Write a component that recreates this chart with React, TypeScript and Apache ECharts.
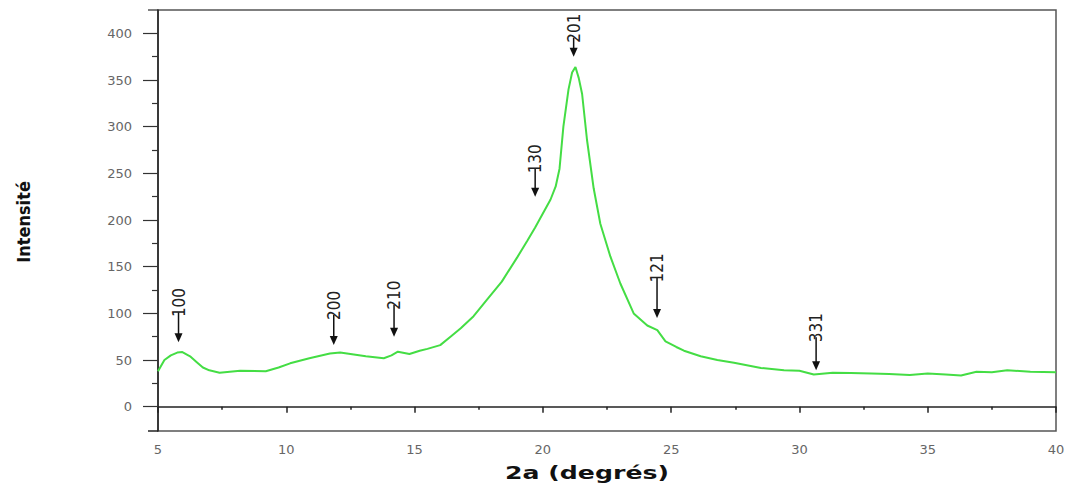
import React, { useEffect, useRef } from "react";
import * as echarts from "echarts";

// 2θ values (degrees) and intensity
const twoTheta = [
  5.0, 5.25, 5.5, 5.75, 5.95, 6.25, 6.5, 6.75, 7.0, 7.4, 8.2, 9.2, 9.7, 10.15, 10.9,
  11.7, 12.1, 12.5, 13.1, 13.8, 14.1, 14.35, 14.8, 15.2, 15.5, 16.0, 16.4, 16.8, 17.3,
  17.8, 18.4, 19.0, 19.4, 19.7, 20.0, 20.3, 20.5, 20.65, 20.8, 21.0, 21.14, 21.27, 21.4,
  21.53, 21.72, 21.98, 22.24, 22.63, 23.02, 23.54, 24.07, 24.46, 24.78, 25.2, 25.5, 26.15,
  26.8, 27.45, 28.5, 29.4, 30.0, 30.56, 31.3, 32.0, 32.8, 33.5, 34.3, 35.0, 35.7, 36.3,
  36.9, 37.5, 38.1, 39.0, 40.0,
];
const intensity = [
  38, 50, 55, 58, 58.5, 54, 48, 42, 39, 36.5, 38.5, 38, 42, 46.5, 52,
  57, 58, 56.5, 54, 52, 55, 59, 56.5, 60, 62, 66, 75, 84, 97,
  114, 134, 160, 178, 192, 207, 222, 236, 255, 300, 340, 358, 364, 352,
  335, 286, 234, 196, 161, 132, 100, 87, 82, 70, 64, 60, 54,
  50, 47, 41.5, 39, 38.5, 34.5, 36.5, 36, 35.5, 35, 34, 35.5, 34.5, 33.5,
  37.5, 37, 39, 37.5, 37,
];

// peak annotations (Miller indices)
const peakLabels = ["100", "200", "210", "130", "201", "121", "331"];
const peakX = [5.8, 11.85, 14.2, 19.7, 21.2, 24.45, 30.65];
const peakTip = [69, 66, 75, 225, 375, 95, 39];
const peakTextBase = [96, 93, 104, 250, 390, 133, 69];

// axis ticks
const xMin = 5;
const xMax = 40;
const yMin = -26;
const yMax = 425;
const yLabelValues = [0, 50, 100, 150, 200, 250, 300, 350, 400];
const yMinorValues = [25, 75, 125, 175, 225, 275, 325, 375];

const xTitle = "2a (degrés)";
const yTitle = "Intensité";

export default function App() {
  const ref = useRef<HTMLDivElement>(null);

  useEffect(() => {
    document.body.style.margin = "0";
    if (!ref.current) return;
    const chart = echarts.init(ref.current, null, { renderer: "svg" });

    const lineData = twoTheta.map((x, i) => [x, intensity[i]]);
    const annData = peakX.map((x, i) => [x, peakTip[i], peakTextBase[i], i]);
    const labelFont = "'Liberation Sans Narrow', 'DejaVu Sans Condensed', 'Liberation Sans', sans-serif";

    chart.setOption({
      animation: false,
      backgroundColor: "#ffffff",
      grid: {
        left: 158,
        right: 17,
        top: 10,
        bottom: 57,
        show: true,
        borderColor: "#555",
        borderWidth: 1.5,
        backgroundColor: "transparent",
      },
      xAxis: {
        type: "value",
        min: xMin,
        max: xMax,
        interval: 5,
        axisLine: { show: true, lineStyle: { color: "#222", width: 1.5 } },
        axisTick: { show: true, inside: false, length: 6, lineStyle: { color: "#222", width: 1.5 } },
        minorTick: { show: true, splitNumber: 2, length: 3, lineStyle: { color: "#222", width: 1.5 } },
        splitLine: { show: false },
        axisLabel: {
          margin: 12,
          color: "#666",
          fontSize: 13,
          fontFamily: "'DejaVu Sans', sans-serif",
        },
      },
      yAxis: [
        {
          type: "value",
          min: yMin,
          max: yMax,
          axisLine: { show: true, onZero: false, lineStyle: { color: "#222", width: 1.5 } },
          axisTick: {
            show: true,
            length: 15,
            customValues: yLabelValues,
            lineStyle: { color: "#333", width: 1.2 },
          },
          splitLine: { show: false },
          axisLabel: {
            customValues: yLabelValues,
            margin: 26,
            color: "#666",
            fontSize: 13,
            fontFamily: "'DejaVu Sans', sans-serif",
          },
        },
        {
          type: "value",
          min: yMin,
          max: yMax,
          position: "left",
          axisLine: { show: false },
          axisTick: {
            show: true,
            length: 6,
            customValues: yMinorValues,
            lineStyle: { color: "#333", width: 1.2 },
          },
          splitLine: { show: false },
          axisLabel: { show: false },
        },
      ],
      series: [
        {
          type: "line",
          data: lineData,
          showSymbol: false,
          symbol: "none",
          smooth: false,
          lineStyle: { color: "#44dd44", width: 2 },
          z: 3,
        },
        {
          type: "custom",
          data: annData,
          z: 5,
          renderItem: (params: any, api: any) => {
            const x = api.value(0);
            const tip = api.coord([x, api.value(1)]);
            const base = api.coord([x, api.value(2)]);
            const idx = api.value(3);
            const head = 9;
            return {
              type: "group",
              children: [
                {
                  type: "line",
                  shape: { x1: base[0], y1: base[1] - 5, x2: tip[0], y2: tip[1] - head + 1 },
                  style: { stroke: "#111", lineWidth: 1.5 },
                },
                {
                  type: "polygon",
                  shape: {
                    points: [
                      [tip[0] - 4, tip[1] - head],
                      [tip[0] + 4, tip[1] - head],
                      [tip[0], tip[1]],
                    ],
                  },
                  style: { fill: "#111" },
                },
                {
                  type: "text",
                  x: tip[0],
                  y: base[1],
                  rotation: Math.PI / 2,
                  style: {
                    text: peakLabels[idx],
                    fill: "#222",
                    font: "17px " + labelFont,
                    textAlign: "left",
                    textVerticalAlign: "middle",
                  },
                },
              ],
            };
          },
        },
      ],
      graphic: [
        {
          type: "line",
          shape: { x1: 148, y1: 431, x2: 158, y2: 431 },
          style: { stroke: "#222", lineWidth: 1.5 },
        },
        {
          type: "line",
          shape: { x1: 148, y1: 10, x2: 158, y2: 10 },
          style: { stroke: "#555", lineWidth: 1.5 },
        },
        {
          type: "text",
          x: 587,
          y: 473,
          scaleX: 1.4,
          style: {
            text: xTitle,
            fill: "#111",
            font: "bold 18px 'DejaVu Sans', sans-serif",
            textAlign: "center",
            textVerticalAlign: "middle",
          },
        },
        {
          type: "text",
          x: 23,
          y: 222,
          rotation: Math.PI / 2,
          style: {
            text: yTitle,
            fill: "#111",
            font: "bold 18px " + labelFont,
            textAlign: "center",
            textVerticalAlign: "middle",
          },
        },
      ],
    });

    return () => {
      chart.dispose();
    };
  }, []);

  return <div ref={ref} style={{ width: 1073, height: 488 }} />;
}
